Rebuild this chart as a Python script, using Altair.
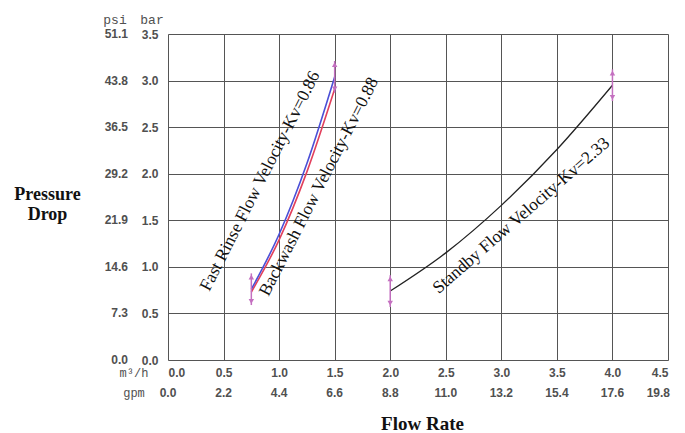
import altair as alt
import pandas as pd

# ---- data ----
x_ticks = [0.0, 0.5, 1.0, 1.5, 2.0, 2.5, 3.0, 3.5, 4.0, 4.5]
gpm_labels = ["0.0", "2.2", "4.4", "6.6", "8.8", "11.0", "13.2", "15.4", "17.6", "19.8"]
bar_ticks = [0.0, 0.5, 1.0, 1.5, 2.0, 2.5, 3.0, 3.5]
psi_labels = ["0.0", "7.3", "14.6", "21.9", "29.2", "36.5", "43.8", "51.1"]

rinse_q = [0.75, 1.0, 1.25, 1.5]
rinse_dp = [0.76, 1.35, 2.11, 3.04]
backwash_q = [0.75, 1.0, 1.25, 1.5]
backwash_dp = [0.73, 1.29, 2.02, 2.91]
standby_q = [2.0, 2.5, 3.0, 3.5, 4.0]
standby_dp = [0.74, 1.15, 1.66, 2.26, 2.95]

label_text = ["Fast Rinse Flow Velocity-Kv=0.86",
              "Backwash Flow Velocity-Kv=0.88",
              "Standby Flow Velocity-Kv=2.33"]
label_x = [0.83, 1.36, 3.18]
label_y = [1.92, 1.86, 1.55]
label_angle = [297, 297, 319]

series_names = ["rinse", "backwash", "standby"]
series_colors = ["#4b4fd6", "#e2405c", "#222222"]

# ---- tables ----
rows = []
for name, qs, dps in [("backwash", backwash_q, backwash_dp),
                      ("rinse", rinse_q, rinse_dp),
                      ("standby", standby_q, standby_dp)]:
    for i, (q, d) in enumerate(zip(qs, dps)):
        rows.append({"series": name, "q": q, "dp": d, "order": i})
lines_df = pd.DataFrame(rows)

ends = []
for qs, dps in [(rinse_q, rinse_dp), (standby_q, standby_dp)]:
    for q, d in [(qs[0], dps[0]), (qs[-1], dps[-1])]:
        ends.append({"q": q, "dp": d, "up": d + 0.13, "dn": d - 0.13,
                     "lo": d - 0.17, "hi": d + 0.17})
ends_df = pd.DataFrame(ends)

labels_df = pd.DataFrame({"text": label_text, "q": label_x, "dp": label_y,
                          "angle": label_angle})
gpm_df = pd.DataFrame({"q": x_ticks, "t": gpm_labels, "last": [False] * (len(x_ticks) - 1) + [True]})
psi_df = pd.DataFrame({"dp": bar_ticks, "t": psi_labels})

W, H = 500, 326
xs = alt.Scale(domain=[0, 4.5], nice=False, zero=False)
ys = alt.Scale(domain=[0, 3.5], nice=False)

lab_font = "Liberation Sans"
lab_color = "#505050"
serif = "Liberation Serif"

base_axes = alt.Chart(lines_df).mark_line(strokeWidth=1.6, interpolate="monotone").encode(
    x=alt.X("q:Q", scale=xs,
            axis=alt.Axis(values=x_ticks, format=".1f", ticks=False, domain=False,
                          grid=True, gridColor="#555555", gridWidth=1,
                          labelPadding=7, labelFont=lab_font, labelFontSize=12,
                          labelColor=lab_color, labelFontWeight="bold",
                          title="Flow Rate", titleFont=serif,
                          titleFontSize=19, titleFontWeight="bold",
                          titleColor="#111111", titleX=254, titleY=69,
                          titleAnchor="start", titleAlign="center",
                          titleBaseline="alphabetic")),
    y=alt.Y("dp:Q", scale=ys,
            axis=alt.Axis(values=bar_ticks, format=".1f", ticks=False, domain=False,
                          grid=True, gridColor="#555555", gridWidth=1,
                          labelPadding=10, labelFont=lab_font, labelFontSize=12,
                          labelColor=lab_color, labelFontWeight="bold",
                          title=["Pressure", "Drop"], titleAngle=0,
                          titleFont=serif, titleFontSize=18,
                          titleFontWeight="bold", titleColor="#111111",
                          titleX=-121, titleY=165, titleAlign="center",
                          titleBaseline="alphabetic", titleLineHeight=20)),
    color=alt.Color("series:N", scale=alt.Scale(domain=series_names, range=series_colors),
                    legend=None),
    detail="series:N",
    order="order:Q",
).transform_filter(alt.datum.series != "standby")

standby = alt.Chart(lines_df).transform_filter(alt.datum.series == "standby").mark_line(
    strokeWidth=1.3, color="#222222", interpolate="monotone").encode(
    x="q:Q", y="dp:Q", order="order:Q")

arrow_color = "#c470c0"
stems = alt.Chart(ends_df).mark_rule(color=arrow_color, strokeWidth=1.5).encode(
    x="q:Q", y="lo:Q", y2="hi:Q")
ups = alt.Chart(ends_df).mark_point(shape="triangle-up", filled=True, size=30,
                                    color=arrow_color, opacity=1).encode(x="q:Q", y="up:Q")
dns = alt.Chart(ends_df).mark_point(shape="triangle-down", filled=True, size=30,
                                    color=arrow_color, opacity=1).encode(x="q:Q", y="dn:Q")

texts = alt.Chart(labels_df).mark_text(font=serif, fontSize=17.5,
                                       color="#111111", align="center",
                                       baseline="middle").encode(
    x="q:Q", y="dp:Q", text="text:N", angle=alt.Angle("angle:Q", scale=None))

gpm = alt.Chart(gpm_df).transform_filter(~alt.datum.last).mark_text(
    font=lab_font, fontSize=12, fontWeight="bold",
    color=lab_color, baseline="middle").encode(
    x="q:Q", y=alt.value(H + 33), text="t:N")
gpm_last = alt.Chart(gpm_df).transform_filter(alt.datum.last).mark_text(
    font=lab_font, fontSize=12, fontWeight="bold", align="right", dx=2,
    color=lab_color, baseline="middle").encode(
    x="q:Q", y=alt.value(H + 33), text="t:N")
psi = alt.Chart(psi_df).mark_text(font=lab_font, fontSize=12, fontWeight="bold",
                                  color=lab_color, align="right", baseline="middle").encode(
    x=alt.value(-40), y="dp:Q", text="t:N")

hdr_df = pd.DataFrame({"t": ["psi", "bar"], "xp": [-53, -16], "yp": [-14, -14]})
hdr = alt.Chart(hdr_df).mark_text(font="Liberation Mono", fontSize=13, color=lab_color,
                                  align="center", baseline="middle").encode(
    x=alt.X("xp:Q", scale=None), y=alt.Y("yp:Q", scale=None), text="t:N")
unit_df = pd.DataFrame({"t": ["m³/h", "gpm"], "xp": [-34, -34], "yp": [H + 13, H + 33]})
units = alt.Chart(unit_df).mark_text(font="Liberation Mono", fontSize=12, color=lab_color,
                                     align="center", baseline="middle").encode(
    x=alt.X("xp:Q", scale=None), y=alt.Y("yp:Q", scale=None), text="t:N")

chart = alt.layer(base_axes, standby, stems, ups, dns, texts, gpm, gpm_last, psi, hdr,
                  units).properties(
    width=W, height=H,
    autosize=alt.AutoSizeParams(type="none"),
    padding={"left": 160, "top": 26, "right": 9, "bottom": 72},
).configure_view(stroke="#111111", strokeWidth=1.5).configure(background="white")

chart.save("out.html", embed_options={"renderer": "svg", "actions": False})
